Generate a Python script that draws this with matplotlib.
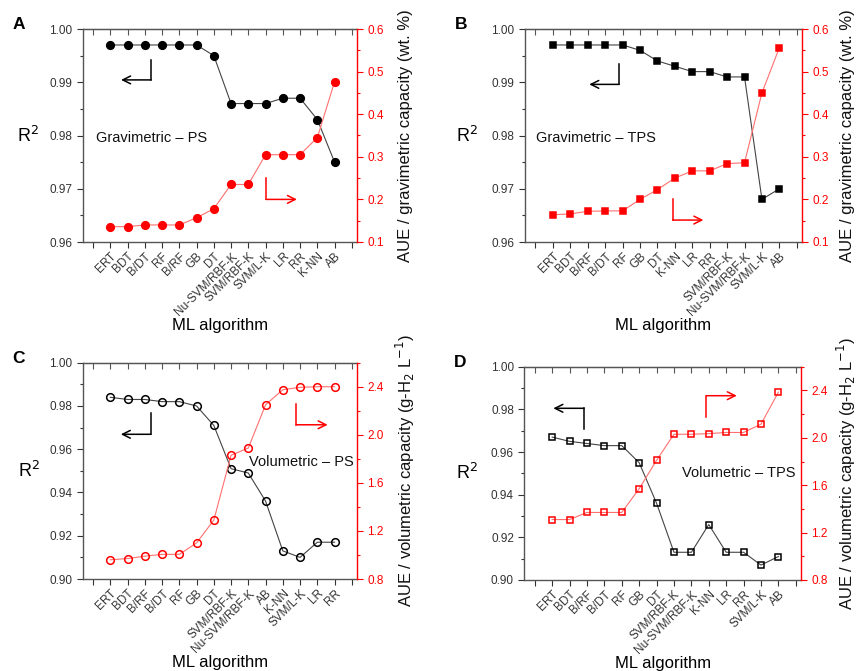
import matplotlib
matplotlib.use("Agg")
import matplotlib.pyplot as plt
from matplotlib.ticker import MultipleLocator

plt.rcParams['font.family'] = ['Liberation Sans', 'DejaVu Sans']

# ---------------------------------------------------------------
# data
# ---------------------------------------------------------------
cats_a = ["ERT", "BDT", "B/DT", "RF", "B/RF", "GB", "DT", "Nu-SVM/RBF-K",
          "SVM/RBF-K", "SVM/L-K", "LR", "RR", "K-NN", "AB"]
r2_a = [0.997, 0.997, 0.997, 0.997, 0.997, 0.997, 0.995, 0.986,
        0.986, 0.986, 0.987, 0.987, 0.983, 0.975]
aue_a = [0.136, 0.136, 0.140, 0.140, 0.140, 0.157, 0.178, 0.235,
         0.235, 0.305, 0.305, 0.305, 0.345, 0.476]

cats_b = ["ERT", "BDT", "B/RF", "B/DT", "RF", "GB", "DT", "K-NN", "LR", "RR",
          "SVM/RBF-K", "Nu-SVM/RBF-K", "SVM/L-K", "AB"]
r2_b = [0.997, 0.997, 0.997, 0.997, 0.997, 0.996, 0.994, 0.993, 0.992, 0.992,
        0.991, 0.991, 0.968, 0.970]
aue_b = [0.164, 0.166, 0.172, 0.173, 0.173, 0.200, 0.223, 0.250, 0.267, 0.267,
         0.284, 0.286, 0.450, 0.556]

cats_c = ["ERT", "BDT", "B/RF", "B/DT", "RF", "GB", "DT", "SVM/RBF-K",
          "Nu-SVM/RBF-K", "AB", "K-NN", "SVM/L-K", "LR", "RR"]
r2_c = [0.984, 0.983, 0.983, 0.982, 0.982, 0.980, 0.971, 0.951,
        0.949, 0.936, 0.913, 0.910, 0.917, 0.917]
aue_c = [0.96, 0.97, 0.99, 1.005, 1.005, 1.10, 1.29, 1.83,
         1.89, 2.25, 2.375, 2.395, 2.40, 2.40]

cats_d = ["ERT", "BDT", "B/RF", "B/DT", "RF", "GB", "DT", "SVM/RBF-K",
          "Nu-SVM/RBF-K", "K-NN", "LR", "RR", "SVM/L-K", "AB"]
r2_d = [0.967, 0.965, 0.964, 0.963, 0.963, 0.955, 0.936, 0.913,
        0.913, 0.926, 0.913, 0.913, 0.907, 0.911]
aue_d = [1.31, 1.31, 1.37, 1.37, 1.37, 1.57, 1.81, 2.03,
         2.03, 2.035, 2.045, 2.045, 2.115, 2.385]

GRAV_LABEL = "AUE / gravimetric capacity (wt. %)"
VOL_LABEL = "AUE / volumetric capacity (g-H$_2$ L$^{-1}$)"

RED = "#ff0000"
AX_GREY = "#555555"


def l_arrow(ax, pts, color):
    # pts: start, corner, tip in axes fraction
    (x0, y0), (x1, y1), (x2, y2) = pts
    ax.plot([x0, x1], [y0, y1], color=color, lw=1.1, transform=ax.transAxes,
            clip_on=False)
    ax.annotate("", xy=(x2, y2), xytext=(x1, y1), xycoords="axes fraction",
                textcoords="axes fraction",
                arrowprops=dict(arrowstyle="->", color=color, lw=1.1,
                                shrinkA=0, shrinkB=0, mutation_scale=14))


def panel(rect, letter, cats, r2, aue, marker, filled, ylim_l, step_l,
          ylim_r, step_r, rlabel, title, title_pos, black_arrow, red_arrow,
          r2_x, xlab_y, rlab_x):
    ax = fig.add_axes(rect)
    x = list(range(1, len(cats) + 1))

    mfc_k = "black" if filled else "none"
    mfc_r = RED if filled else "none"
    ms = 5.5 if marker == "o" else 5

    ax.plot(x, r2, color="#444444", lw=0.8, marker=marker, ms=ms,
            mfc=mfc_k, mec="black", mew=1.1, zorder=3)
    ax.set_xlim(-0.6, 15.3)
    ax.set_ylim(*ylim_l)
    ax.yaxis.set_major_locator(MultipleLocator(step_l))
    ax.yaxis.set_minor_locator(MultipleLocator(step_l / 2))
    ax.yaxis.set_major_formatter(plt.FormatStrFormatter("%.2f"))
    ax.set_xticks(range(0, 16))
    ax.set_xticklabels([""] + cats + [""], rotation=45, ha="right",
                       rotation_mode="anchor", fontsize=6.7)
    ax.tick_params(axis="both", direction="out", length=4, width=0.8,
                   colors="#333333", labelsize=8.5)
    ax.tick_params(axis="y", which="minor", direction="out", length=2.5,
                   width=0.8, colors="#333333")
    ax.tick_params(axis="x", pad=2)
    for s in ["left", "bottom", "top"]:
        ax.spines[s].set_color(AX_GREY)
        ax.spines[s].set_linewidth(1.0)
    ax.spines["right"].set_visible(False)

    top = ax.secondary_xaxis("top")
    top.set_xticks(range(0, 16))
    top.set_xticklabels([])
    top.tick_params(direction="in", length=4, width=0.8, colors=AX_GREY)
    top.spines["top"].set_color(AX_GREY)

    ax.set_ylabel("R$^2$", rotation=0, fontsize=13, va="center", ha="center")
    ax.yaxis.set_label_coords(r2_x, 0.5)
    ax.set_xlabel("ML algorithm", fontsize=12, va="center")
    ax.xaxis.set_label_coords(0.5, xlab_y)

    tw = ax.twinx()
    tw.plot(x, aue, color="#ff7070", lw=0.8, marker=marker, ms=ms,
            mfc=mfc_r, mec=RED, mew=1.1, zorder=3)
    tw.set_ylim(*ylim_r)
    tw.yaxis.set_major_locator(MultipleLocator(step_r))
    tw.yaxis.set_minor_locator(MultipleLocator(step_r / 2))
    tw.yaxis.set_major_formatter(plt.FormatStrFormatter("%.1f"))
    tw.tick_params(axis="y", which="major", direction="out", length=4,
                   width=0.8, colors=RED, labelsize=8.5)
    tw.tick_params(axis="y", which="minor", direction="out", length=2.5,
                   width=0.8, colors=RED)
    for s in ["left", "bottom", "top"]:
        tw.spines[s].set_visible(False)
    tw.spines["right"].set_color(RED)
    tw.spines["right"].set_linewidth(1.0)
    tw.set_ylabel(rlabel, fontsize=12, color="#111111", va="center",
                  ha="center")
    tw.yaxis.set_label_coords(rlab_x, 0.5)

    ax.text(title_pos[0], title_pos[1], title, transform=ax.transAxes,
            fontsize=10.5, va="center", ha="left", color="#111111")

    l_arrow(tw, black_arrow, "black")
    l_arrow(tw, red_arrow, RED)

    fig.text(rect[0] - 0.082, rect[1] + rect[3] + 0.006, letter,
             fontsize=12.5, fontweight="bold", va="center", ha="left")
    return ax


W, H = 856, 671
fig = plt.figure(figsize=(W / 100, H / 100), dpi=100)


def rect_px(x0, x1, ytop, ybot):
    return [x0 / W, 1 - ybot / H, (x1 - x0) / W, (ybot - ytop) / H]


panel(rect_px(82.7, 357, 29, 242), "A", cats_a, r2_a, aue_a, "o", True,
      (0.96, 1.00), 0.01, (0.1, 0.6), 0.1, GRAV_LABEL,
      "Gravimetric \u2013 PS", (0.049, 0.488),
      [(0.249, 0.854), (0.249, 0.761), (0.14, 0.761)],
      [(0.668, 0.30), (0.668, 0.20), (0.781, 0.20)],
      -0.20, -0.39, 1.175)

panel(rect_px(525, 802, 29, 242), "B", cats_b, r2_b, aue_b, "s", True,
      (0.96, 1.00), 0.01, (0.1, 0.6), 0.1, GRAV_LABEL,
      "Gravimetric \u2013 TPS", (0.04, 0.49),
      [(0.34, 0.836), (0.34, 0.74), (0.232, 0.74)],
      [(0.533, 0.20), (0.533, 0.103), (0.644, 0.103)],
      -0.21, -0.39, 1.163)

panel(rect_px(82.7, 357, 362.7, 579), "C", cats_c, r2_c, aue_c, "o", False,
      (0.90, 1.00), 0.02, (0.8, 2.6), 0.4, VOL_LABEL,
      "Volumetric \u2013 PS", (0.607, 0.54),
      [(0.249, 0.766), (0.249, 0.669), (0.139, 0.669)],
      [(0.778, 0.809), (0.778, 0.713), (0.893, 0.713)],
      -0.196, -0.384, 1.175)

panel(rect_px(524.3, 801, 366.7, 580), "D", cats_d, r2_d, aue_d, "s", False,
      (0.90, 1.00), 0.02, (0.8, 2.6), 0.4, VOL_LABEL,
      "Volumetric \u2013 TPS", (0.571, 0.50),
      [(0.216, 0.708), (0.216, 0.805), (0.105, 0.805)],
      [(0.658, 0.766), (0.658, 0.864), (0.768, 0.864)],
      -0.207, -0.39, 1.163)

fig.savefig("out.png", dpi=100)
